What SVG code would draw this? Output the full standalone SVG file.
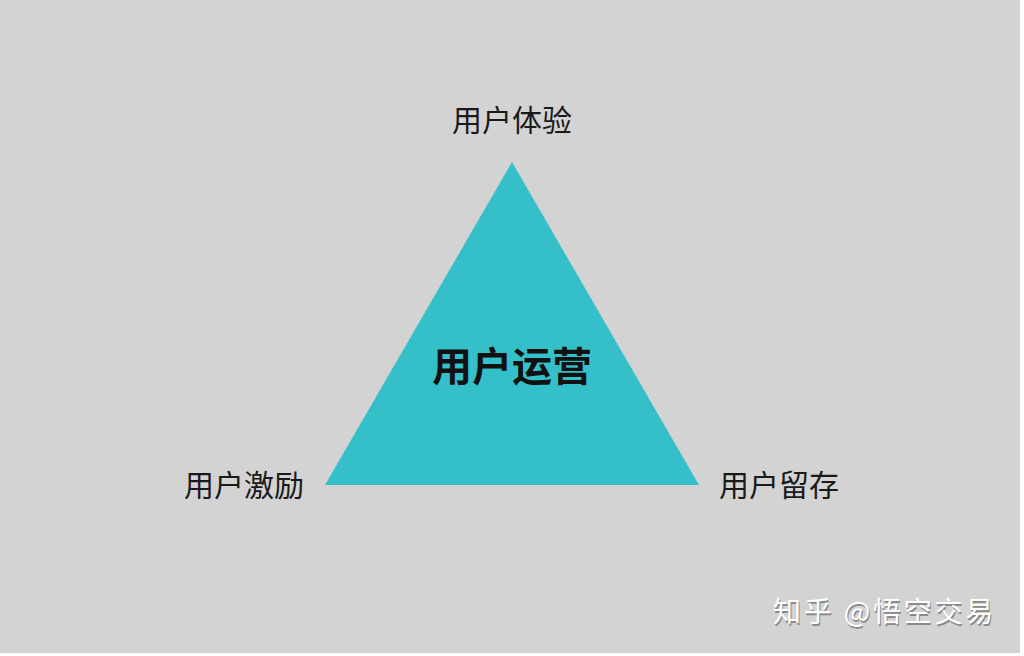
<svg xmlns="http://www.w3.org/2000/svg" width="1024" height="656" viewBox="0 0 1024 656">
  <defs>
    <style>
      .lbl { font-family: "Noto Sans CJK SC", "Noto Sans", sans-serif; font-size: 30px; fill: #1a1a1a; text-anchor: middle; }
      .title { font-family: "Noto Sans CJK SC", "Noto Sans", sans-serif; font-size: 40px; font-weight: bold; fill: #111; text-anchor: middle; }
      .wm { font-family: "Noto Sans CJK SC", "Noto Sans", sans-serif; font-size: 28px; letter-spacing: 2.8px; fill: #ffffff; }
      .wms { font-family: "Noto Sans CJK SC", "Noto Sans", sans-serif; font-size: 28px; letter-spacing: 2.8px; fill: #8a8a8a; }
    </style>
  </defs>
  <rect x="0" y="0" width="1024" height="656" fill="#ffffff"/>
  <rect x="0" y="0" width="1020" height="653" fill="#d3d3d3"/>
  <g id="triangle">
    <polygon points="512,162 325,485 699,485" fill="#35c0c9"/>
    <text class="title" x="512" y="381">用户运营</text>
  </g>
  <g id="node-top">
    <text class="lbl" x="512" y="131">用户体验</text>
  </g>
  <g id="node-left">
    <text class="lbl" x="244" y="496">用户激励</text>
  </g>
  <g id="node-right">
    <text class="lbl" x="779" y="496">用户留存</text>
  </g>
  <g id="connectors"></g>
  <g id="watermark">
    <text class="wms" x="774" y="624">知乎 @悟空交易</text>
    <text class="wm" x="773" y="622">知乎 @悟空交易</text>
  </g>
</svg>
